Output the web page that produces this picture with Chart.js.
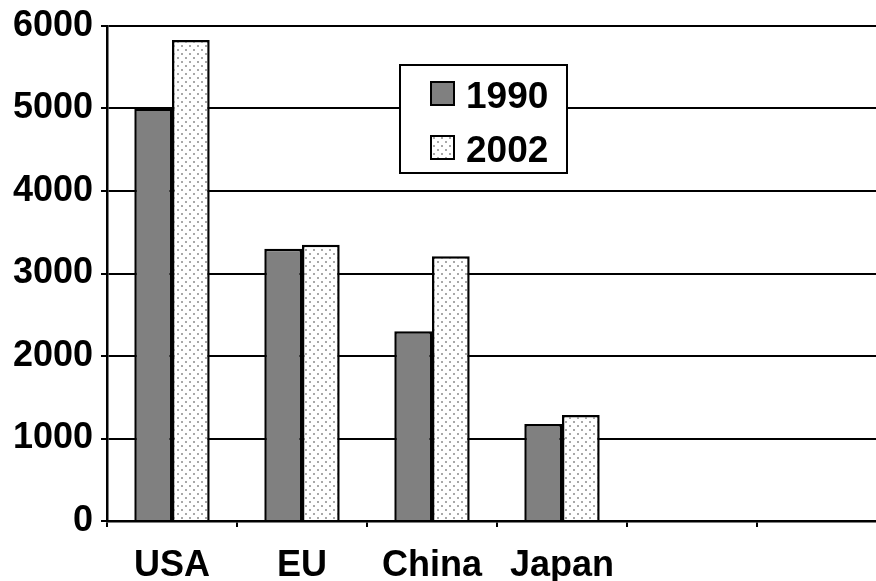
<!DOCTYPE html>
<html>
<head>
<meta charset="utf-8">
<script src="https://cdn.jsdelivr.net/npm/chart.js@4"></script>
<style>
  html, body { margin: 0; padding: 0; background: #fff; overflow: hidden; }
  #wrap { width: 890px; height: 581px; }
</style>
</head>
<body>
<div id="wrap"><canvas id="barChart"></canvas></div>
<script>
var regions = ['USA', 'EU', 'China', 'Japan', '', ''];
var values1990 = [5000, 3300, 2300, 1175, null, null];
var values2002 = [5830, 3350, 3210, 1285, null, null];
var seriesNames = ['1990', '2002'];

var labelFont = { family: '"Liberation Sans", Arial, sans-serif', size: 36, weight: 'bold', lineHeight: 1 };

// dotted fill for the second series
function dotPattern() {
    var c = document.createElement('canvas');
    c.width = 8; c.height = 8;
    var g = c.getContext('2d');
    g.fillStyle = '#fff';
    g.fillRect(0, 0, 8, 8);
    g.fillStyle = '#a8a8a8';
    g.fillRect(1, 1, 2, 2);
    g.fillRect(5, 5, 2, 2);
    return g.createPattern(c, 'repeat');
}
var dots = dotPattern();

// boxed legend sitting inside the plot
var boxLegend = {
    id: 'boxLegend',
    afterDraw: function (chart) {
        var ctx = chart.ctx;
        var x = chart.chartArea.left + 293, y = 65, w = 167, h = 108;
        ctx.save();
        ctx.fillStyle = '#fff';
        ctx.fillRect(x, y, w, h);
        ctx.strokeStyle = '#000';
        ctx.lineWidth = 2;
        ctx.strokeRect(x, y, w, h);
        ctx.font = 'bold 37px "Liberation Sans", Arial, sans-serif';
        ctx.textBaseline = 'middle';
        chart.data.datasets.forEach(function (ds, i) {
            var my = y + 17 + i * 54;
            ctx.fillStyle = ds.backgroundColor;
            ctx.fillRect(x + 31, my, 23, 23);
            ctx.lineWidth = 2;
            ctx.strokeRect(x + 31, my, 23, 23);
            ctx.fillStyle = '#000';
            ctx.fillText(ds.label, x + 66, my + 16);
        });
        ctx.restore();
    }
};

var ctx = document.getElementById('barChart').getContext('2d');
var myChart = new Chart(ctx, {
    type: 'bar',
    data: {
        labels: regions,
        datasets: [{
            label: seriesNames[0],
            data: values1990,
            backgroundColor: '#808080',
            borderColor: '#000',
            borderWidth: 2.5
        }, {
            label: seriesNames[1],
            data: values2002,
            backgroundColor: dots,
            borderColor: '#000',
            borderWidth: 2.5
        }]
    },
    options: {
        responsive: true,
        maintainAspectRatio: false,
        animation: false,
        layout: { padding: { left: 13, top: 25, right: 3, bottom: 0 } },
        datasets: { bar: { barPercentage: 1, categoryPercentage: 0.58 } },
        plugins: { legend: { display: false }, tooltip: { enabled: false } },
        scales: {
            x: {
                afterFit: function (scale) { scale.height = 60; },
                grid: { drawOnChartArea: false, drawTicks: true, tickLength: 6, color: '#000', lineWidth: 2 },
                border: { color: '#000', width: 2.5 },
                ticks: {
                    color: '#000',
                    padding: 21,
                    maxRotation: 0,
                    autoSkip: false,
                    font: labelFont
                }
            },
            y: {
                min: 0,
                max: 6000,
                afterFit: function (scale) { scale.width = 94; },
                grid: { color: '#000', lineWidth: 2, tickLength: 6 },
                border: { color: '#000', width: 2.5 },
                ticks: {
                    stepSize: 1000,
                    color: '#000',
                    padding: 8,
                    font: labelFont,
                    callback: function (v) { return String(v); }
                }
            }
        }
    },
    plugins: [boxLegend]
});
</script>
</body>
</html>
